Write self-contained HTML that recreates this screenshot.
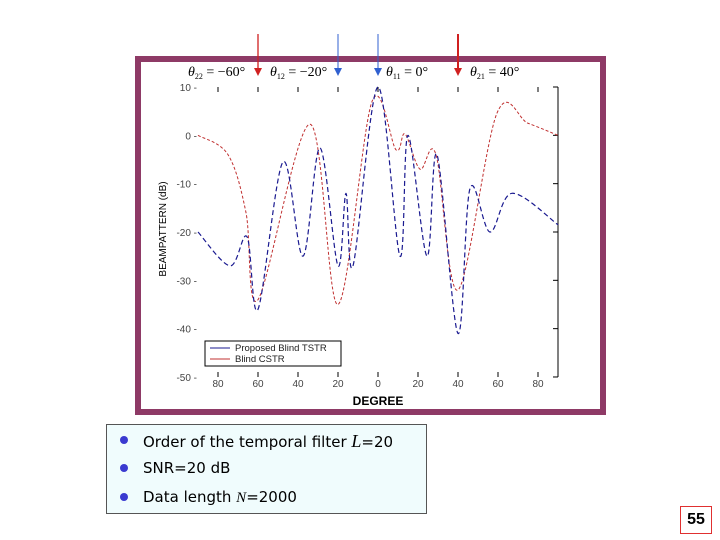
<!DOCTYPE html>
<html><head><meta charset="utf-8"><style>
body{margin:0;width:720px;height:540px;background:#fff;position:relative;overflow:hidden;font-family:"Liberation Sans",sans-serif}
#info{position:absolute;left:106px;top:424px;width:319px;height:88px;border:1px solid #555;background:#f0fcfd}
.b{position:absolute;left:14px;font-size:15px;color:#000;font-family:"Comic Sans MS","DejaVu Sans",sans-serif}
.b:before{content:"";position:absolute;left:-1px;top:5px;width:8px;height:8px;border-radius:50%;background:#3a3ad0}
.b span.t{margin-left:22px}
#pg{position:absolute;left:680px;top:506px;width:30px;height:26px;border:1px solid #e03030;font-size:16px;font-weight:bold;text-align:center;line-height:26px}
</style></head><body>
<svg id="ch" width="720" height="420" style="position:absolute;left:0;top:0"></svg>
<div id="info">
<div class="b" style="top:6px"><span class="t">Order of the temporal filter <i style="font-family:'Liberation Serif',serif;font-size:18px">L</i>=20</span></div>
<div class="b" style="top:34px"><span class="t">SNR=20 dB</span></div>
<div class="b" style="top:63px"><span class="t">Data length <i style="font-family:'Liberation Serif',serif">N</i>=2000</span></div>
</div>
<div id="pg">55</div>
<script>
const xTicks=[-80,-60,-40,-20,0,20,40,60,80];
const yTicks=[10,0,-10,-20,-30,-40,-50];
const blueDeg=[-90,-74,-65.5,-60,-47.5,-37.5,-29,-20,-16,-12.5,0,11,15,24.5,29.5,40,46,56,67,90];
const blueDb=[-20,-27,-21,-36,-5.5,-25,-2.6,-27,-12,-27,10,-25,0,-25,-4,-41,-11,-20,-12,-18.5];
const redDeg=[-90,-75,-66,-60,-34,-20,-3,9,13.5,21,29,40,59.5,75,90];
const redDb=[0,-4,-16,-34,2.3,-35,7,-3,0.3,-7,-4,-32,4.6,2.5,0];
const NS="http://www.w3.org/2000/svg";
const svg=document.getElementById('ch');
const X=d=>378+d*2, Y=v=>87+(10-v)*4.833;
function el(t,a,name,p){const e=document.createElementNS(NS,t);for(const k in a)e.setAttribute(k,a[k]);


(p||svg).appendChild(e);return e;}
el('rect',{x:138,y:59,width:465,height:353,fill:'#fff',stroke:'#8e3a66','stroke-width':6},'plot-frame');
el('line',{x1:558,y1:87,x2:558,y2:377,stroke:'#000','stroke-width':1},'right-axis');
xTicks.forEach(t=>{el('line',{x1:X(t),y1:372,x2:X(t),y2:377,stroke:'#000'},'x-tick');
el('line',{x1:X(t),y1:87,x2:X(t),y2:92,stroke:'#000'},'x-tick-top');
const tx=el('text',{x:X(t),y:387,'font-size':10,'text-anchor':'middle',fill:'#444'},'x-tick-label');tx.textContent=t<0?-t:t;});
yTicks.forEach(t=>{el('line',{x1:553,y1:Y(t),x2:558,y2:Y(t),stroke:'#000'},'y-tick');
const tx=el('text',{x:197,y:Y(t)+4,'font-size':10,'text-anchor':'end',fill:'#444'},'y-tick-label');tx.textContent=t+' -';});
let t=el('text',{x:378,y:405,'font-size':12,'font-weight':'bold','text-anchor':'middle'},'x-axis-title');t.textContent='DEGREE';
t=el('text',{x:0,y:0,'font-size':10,'text-anchor':'middle',transform:'translate(166,229) rotate(-90)'},'y-axis-title');t.textContent='BEAMPATTERN (dB)';
function path(dg,db){const p=dg.map((d,i)=>[X(d),Y(db[i])]);let s='M'+p[0];
for(let i=0;i<p.length-1;i++){const a=p[Math.max(0,i-1)],b=p[i],c=p[i+1],e=p[Math.min(p.length-1,i+2)];
const c1=[b[0]+(c[0]-a[0])/6,b[1]+(c[1]-a[1])/6],c2=[c[0]-(e[0]-b[0])/6,c[1]-(e[1]-b[1])/6];
s+='C'+c1+' '+c2+' '+c;}return s;}
el('path',{d:path(redDeg,redDb),fill:'none',stroke:'#c03030','stroke-width':1,'stroke-dasharray':'3,2'},'series-blind-cstr');
el('path',{d:path(blueDeg,blueDb),fill:'none',stroke:'#1a1a90','stroke-width':1.2,'stroke-dasharray':'5,3'},'series-proposed-blind-tstr');
const g=el('g',{},'legend');
el('rect',{x:205,y:341,width:136,height:25,fill:'#fff',stroke:'#000'},'legend-box',g);
el('line',{x1:210,y1:348,x2:230,y2:348,stroke:'#1a1a90'},'legend-line-tstr',g);
el('line',{x1:210,y1:359,x2:230,y2:359,stroke:'#c03030'},'legend-line-cstr',g);
t=el('text',{x:235,y:351,'font-size':9.5,fill:'#222'},'legend-label-tstr',g);t.textContent='Proposed Blind TSTR';
t=el('text',{x:235,y:362,'font-size':9.5,fill:'#222'},'legend-label-cstr',g);t.textContent='Blind CSTR';
[[258,'#d02020',1.3],[338,'#3060d0',1],[378,'#3060d0',1],[458,'#d02020',2]].forEach(a=>{
el('line',{x1:a[0],y1:34,x2:a[0],y2:70,stroke:a[1],'stroke-width':a[2]},'direction-arrow');
el('polygon',{points:`${a[0]-4},68 ${a[0]+4},68 ${a[0]},76`,fill:a[1]},'arrow-head');});
[[188,'θ','22','= −60°'],[270,'θ','12','= −20°'],[386,'θ','11','= 0°'],[470,'θ','21','= 40°']].forEach(a=>{
const tx=el('text',{x:a[0],y:76,'font-size':14,'font-family':'Liberation Serif,serif'},'angle-label');
tx.innerHTML=`<tspan font-style="italic">${a[1]}</tspan><tspan font-size="8" dy="3">${a[2]}</tspan><tspan dy="-3"> ${a[3]}</tspan>`;});
</script>
</body></html>
